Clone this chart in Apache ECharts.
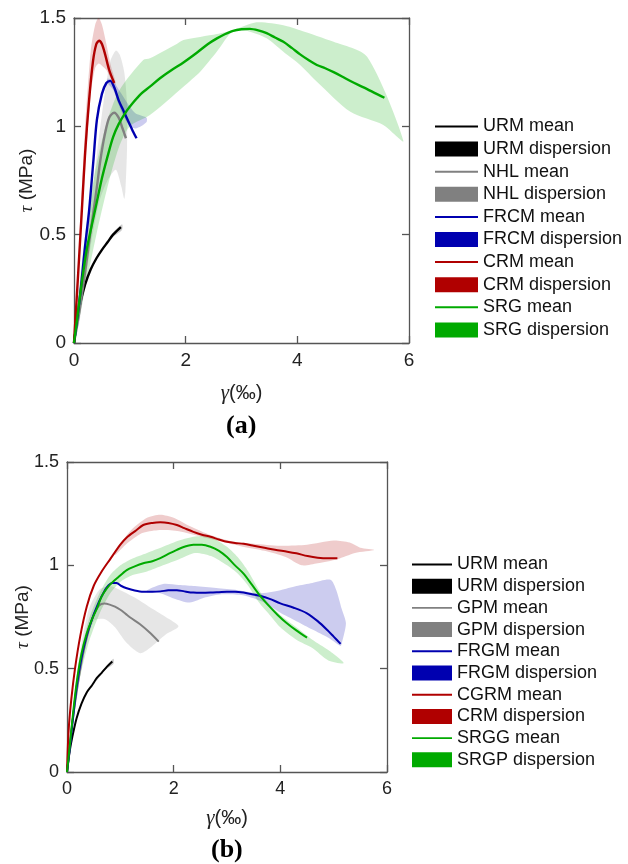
<!DOCTYPE html>
<html>
<head>
<meta charset="utf-8">
<script src="https://cdn.jsdelivr.net/npm/echarts@6/dist/echarts.min.js"></script>
<style>
  html, body { margin: 0; padding: 0; background: #fff; }
  #chart { width: 628px; height: 864px; }
</style>
</head>
<body>
<div id="chart"></div>
<script>
// --- Ejes ---
const X_TICKS = [0, 2, 4, 6];
const Y_TICKS = [0, 0.5, 1, 1.5];

// --- Panel (a): curvas medias [gamma, tau] ---
const urmMediaA = [[0, 0], [0.05, 0.1], [0.1, 0.17], [0.2, 0.27], [0.3, 0.34], [0.4, 0.39], [0.5, 0.43], [0.6, 0.465], [0.7, 0.5], [0.84, 0.535]];
const nhlMediaA = [[0, 0], [0.1, 0.15], [0.2, 0.33], [0.3, 0.52], [0.35, 0.61], [0.41, 0.72], [0.47, 0.84], [0.55, 0.96], [0.63, 1.04], [0.72, 1.063], [0.8, 1.04], [0.87, 0.99], [0.93, 0.945]];
const frcmMediaA = [[0, 0], [0.1, 0.2], [0.2, 0.45], [0.27, 0.61], [0.35, 0.85], [0.41, 1.03], [0.5, 1.15], [0.58, 1.2], [0.65, 1.21], [0.72, 1.18], [0.8, 1.12], [0.88, 1.075], [0.96, 1.03], [1.05, 0.98], [1.12, 0.945]];
const crmMediaA = [[0, 0], [0.07, 0.3], [0.14, 0.61], [0.2, 0.88], [0.27, 1.12], [0.34, 1.3], [0.4, 1.38], [0.45, 1.395], [0.5, 1.38], [0.56, 1.33], [0.63, 1.26], [0.72, 1.2]];
const srgMediaA = [[0, 0], [0.05, 0.1], [0.14, 0.28], [0.22, 0.42], [0.29, 0.51], [0.4, 0.64], [0.5, 0.76], [0.6, 0.86], [0.7, 0.95], [0.8, 1.01], [0.94, 1.07], [1.06, 1.11], [1.2, 1.15], [1.36, 1.183], [1.54, 1.222], [1.75, 1.26], [1.96, 1.295], [2.2, 1.34], [2.4, 1.38], [2.56, 1.406], [2.7, 1.425], [2.85, 1.441], [3.0, 1.448], [3.15, 1.45], [3.3, 1.443], [3.45, 1.43], [3.6, 1.41], [3.75, 1.39], [3.9, 1.362], [4.05, 1.332], [4.2, 1.306], [4.35, 1.283], [4.5, 1.268], [4.65, 1.25], [4.8, 1.23], [4.95, 1.209], [5.1, 1.19], [5.25, 1.172], [5.4, 1.152], [5.56, 1.132]];

// --- Panel (a): bandas de dispersión (borde superior y luego inferior) ---
const urmBandaA = [[0.55, 0.45], [0.7, 0.51], [0.86, 0.548], [0.86, 0.522], [0.7, 0.49], [0.55, 0.44]];
const nhlBandaA = [[0, 0], [0.2, 0.4], [0.4, 0.85], [0.55, 1.15], [0.65, 1.3], [0.75, 1.35], [0.82, 1.33], [0.9, 1.25], [0.95, 1.1], [0.95, 0.9], [0.92, 0.7], [0.9, 0.665], [0.85, 0.72], [0.75, 0.8], [0.6, 0.75], [0.45, 0.65], [0.3, 0.45], [0.1, 0.1]];
const frcmBandaA = [[0.6, 1.22], [0.7, 1.21], [0.8, 1.17], [0.9, 1.13], [1.0, 1.09], [1.1, 1.06], [1.2, 1.05], [1.3, 1.04], [1.3, 1.02], [1.2, 1.0], [1.1, 0.99], [1.0, 1.0], [0.9, 1.04], [0.8, 1.1], [0.7, 1.17], [0.6, 1.2]];
const crmBandaA = [[0, 0], [0.1, 0.5], [0.2, 1.0], [0.3, 1.35], [0.38, 1.47], [0.44, 1.5], [0.5, 1.47], [0.58, 1.38], [0.66, 1.28], [0.74, 1.21], [0.74, 1.19], [0.66, 1.22], [0.58, 1.26], [0.5, 1.28], [0.44, 1.29], [0.38, 1.27], [0.3, 1.15], [0.2, 0.8], [0.1, 0.4]];
const srgBandaA = [[0, 0], [0.2, 0.5], [0.4, 0.82], [0.6, 1.03], [0.82, 1.17], [1.24, 1.306], [1.36, 1.314], [1.84, 1.38], [1.96, 1.398], [2.56, 1.426], [2.85, 1.444], [3.27, 1.48], [3.75, 1.467], [4.05, 1.444], [4.65, 1.39], [5.25, 1.321], [5.9, 0.932], [5.54, 1.006], [4.95, 1.067], [4.35, 1.206], [4.05, 1.283], [3.75, 1.344], [3.45, 1.406], [3.15, 1.437], [2.85, 1.44], [2.56, 1.345], [2.26, 1.252], [1.96, 1.183], [1.36, 1.052], [1.0, 1.0], [0.8, 0.9], [0.6, 0.72], [0.4, 0.5], [0.2, 0.25]];

// --- Panel (b): curvas medias ---
const urmMediaB = [[0, 0], [0.05, 0.1], [0.1, 0.17], [0.18, 0.26], [0.27, 0.33], [0.37, 0.385], [0.47, 0.42], [0.56, 0.455], [0.65, 0.48], [0.75, 0.51], [0.85, 0.535]];
const gpmMediaB = [[0, 0], [0.05, 0.12], [0.1, 0.24], [0.2, 0.42], [0.3, 0.57], [0.4, 0.68], [0.5, 0.76], [0.6, 0.805], [0.7, 0.815], [0.8, 0.81], [0.9, 0.8], [1.0, 0.785], [1.1, 0.765], [1.2, 0.745], [1.37, 0.715], [1.55, 0.675], [1.72, 0.631]];
const frgmMediaB = [[0, 0], [0.05, 0.11], [0.1, 0.23], [0.18, 0.41], [0.27, 0.55], [0.37, 0.66], [0.47, 0.74], [0.56, 0.8], [0.65, 0.85], [0.75, 0.895], [0.85, 0.915], [0.93, 0.915], [1.02, 0.9], [1.12, 0.889], [1.27, 0.878], [1.43, 0.872], [1.6, 0.872], [1.75, 0.874], [1.9, 0.879], [2.06, 0.88], [2.2, 0.874], [2.37, 0.868], [2.53, 0.867], [2.69, 0.868], [2.85, 0.87], [3.0, 0.872], [3.15, 0.872], [3.31, 0.868], [3.47, 0.86], [3.63, 0.852], [3.8, 0.838], [4.0, 0.816], [4.25, 0.795], [4.5, 0.768], [4.7, 0.73], [4.88, 0.687], [5.0, 0.655], [5.13, 0.62]];
const cgrmMediaB = [[0, 0], [0.03, 0.2], [0.08, 0.35], [0.15, 0.5], [0.25, 0.66], [0.37, 0.8], [0.5, 0.9], [0.65, 0.97], [0.81, 1.03], [1.0, 1.1], [1.12, 1.135], [1.3, 1.17], [1.43, 1.195], [1.6, 1.205], [1.75, 1.208], [1.9, 1.205], [2.06, 1.195], [2.2, 1.18], [2.37, 1.162], [2.53, 1.148], [2.69, 1.138], [2.85, 1.125], [3.0, 1.114], [3.15, 1.108], [3.31, 1.104], [3.5, 1.095], [3.7, 1.085], [3.9, 1.075], [4.13, 1.066], [4.3, 1.058], [4.51, 1.045], [4.7, 1.037], [4.9, 1.034], [5.07, 1.034]];
const srggMediaB = [[0, 0], [0.05, 0.12], [0.1, 0.25], [0.18, 0.43], [0.27, 0.57], [0.37, 0.67], [0.47, 0.74], [0.56, 0.79], [0.65, 0.85], [0.75, 0.89], [0.84, 0.915], [0.95, 0.94], [1.12, 0.977], [1.27, 0.995], [1.43, 1.01], [1.6, 1.02], [1.75, 1.035], [1.9, 1.055], [2.06, 1.075], [2.2, 1.09], [2.37, 1.1], [2.53, 1.1], [2.69, 1.09], [2.85, 1.07], [3.0, 1.04], [3.15, 1.0], [3.31, 0.96], [3.47, 0.905], [3.63, 0.85], [3.8, 0.8], [3.95, 0.76], [4.1, 0.725], [4.3, 0.685], [4.5, 0.65]];

// --- Panel (b): bandas de dispersión ---
const urmBandaB = [[0.55, 0.45], [0.7, 0.5], [0.87, 0.548], [0.87, 0.522], [0.7, 0.49], [0.55, 0.44]];
const gpmBandaB = [[0, 0], [0.2, 0.5], [0.4, 0.78], [0.6, 0.88], [0.8, 0.9], [1.0, 0.88], [1.3, 0.84], [1.6, 0.79], [1.85, 0.75], [2.09, 0.705], [1.85, 0.665], [1.6, 0.61], [1.37, 0.575], [1.1, 0.63], [0.9, 0.7], [0.7, 0.74], [0.5, 0.73], [0.3, 0.55], [0.1, 0.2]];
const frgmBandaB = [[1.5, 0.88], [1.8, 0.91], [2.1, 0.905], [2.4, 0.9], [2.8, 0.89], [3.2, 0.88], [3.6, 0.865], [4.0, 0.88], [4.3, 0.9], [4.6, 0.915], [4.94, 0.93], [5.05, 0.88], [5.15, 0.79], [5.23, 0.72], [5.15, 0.62], [5.13, 0.61], [4.9, 0.65], [4.6, 0.69], [4.3, 0.73], [4.0, 0.77], [3.7, 0.82], [3.3, 0.855], [2.9, 0.86], [2.6, 0.845], [2.3, 0.82], [2.0, 0.84], [1.75, 0.865], [1.5, 0.87]];
const crmBandaB = [[0.9, 1.07], [1.2, 1.17], [1.5, 1.23], [1.75, 1.245], [2.0, 1.23], [2.3, 1.19], [2.7, 1.145], [3.1, 1.115], [3.5, 1.105], [4.0, 1.095], [4.5, 1.1], [5.0, 1.12], [5.3, 1.11], [5.5, 1.085], [5.76, 1.074], [5.4, 1.06], [5.07, 1.03], [4.7, 1.01], [4.4, 1.0], [4.1, 1.04], [3.7, 1.07], [3.3, 1.09], [2.9, 1.115], [2.5, 1.14], [2.1, 1.165], [1.7, 1.17], [1.4, 1.155], [1.1, 1.1], [0.9, 1.05]];
const srgpBandaB = [[0, 0], [0.2, 0.5], [0.4, 0.73], [0.6, 0.86], [0.8, 0.95], [1.0, 1.0], [1.2, 1.03], [1.5, 1.06], [1.8, 1.09], [2.1, 1.12], [2.4, 1.14], [2.7, 1.135], [3.0, 1.09], [3.2, 1.04], [3.4, 0.97], [3.6, 0.88], [3.8, 0.81], [4.0, 0.76], [4.3, 0.7], [4.6, 0.64], [4.9, 0.59], [5.19, 0.527], [4.9, 0.54], [4.6, 0.6], [4.3, 0.64], [4.0, 0.7], [3.8, 0.76], [3.6, 0.82], [3.4, 0.9], [3.2, 0.96], [3.0, 1.0], [2.7, 1.045], [2.4, 1.06], [2.1, 1.03], [1.8, 1.0], [1.5, 0.97], [1.2, 0.95], [1.0, 0.92], [0.8, 0.86], [0.6, 0.76], [0.4, 0.62], [0.2, 0.4]];

// --- Leyendas ---
const leyendaA = ["URM mean", "URM dispersion", "NHL mean", "NHL dispersion", "FRCM mean", "FRCM dispersion", "CRM mean", "CRM dispersion", "SRG mean", "SRG dispersion"];
const leyendaB = ["URM mean", "URM dispersion", "GPM mean", "GPM dispersion", "FRGM mean", "FRGM dispersion", "CGRM mean", "CRM dispersion", "SRGG mean", "SRGP dispersion"];
const colores = ["#000000", "#808080", "#0000B0", "#B00000", "#00AA00"];

const SANS = "'Liberation Sans', Arial, Helvetica, sans-serif";
const SERIF = "'Liberation Serif', 'Times New Roman', serif";

function rgba(hex, a) {
  const n = parseInt(hex.slice(1), 16);
  return `rgba(${(n >> 16) & 255},${(n >> 8) & 255},${n & 255},${a})`;
}

function lineaMedia(nombre, datos, color, panel) {
  return {
    name: nombre,
    type: "line",
    xAxisIndex: panel * 2,
    yAxisIndex: panel * 2,
    data: datos,
    smooth: 0.3,
    symbol: "none",
    showSymbol: false,
    silent: true,
    z: 3,
    lineStyle: { color: color, width: panel === 0 ? 2.4 : 2 },
    itemStyle: { color: color },
  };
}

function bandaDispersion(nombre, datos, color, panel) {
  return {
    name: nombre,
    type: "custom",
    xAxisIndex: panel * 2,
    yAxisIndex: panel * 2,
    data: datos,
    silent: true,
    z: 2,
    itemStyle: { color: color },
    renderItem: (params, api) => {
      if (params.dataIndex !== 0) return null;
      const pts = datos.map((p) => api.coord(p));
      return {
        type: "polygon",
        shape: { points: pts, smooth: 0.25 },
        style: { fill: rgba(color, 0.2), stroke: null },
      };
    },
  };
}

function ejeX(grid, abajo, gap) {
  return {
    type: "value",
    gridIndex: grid,
    position: abajo ? "bottom" : "top",
    min: 0,
    max: 6,
    interval: 2,
    axisLine: { show: true, onZero: false, lineStyle: { color: "#555", width: 1.3 } },
    axisTick: { show: true, inside: true, length: 7, lineStyle: { color: "#555", width: 1.3 } },
    axisLabel: { show: abajo, fontSize: grid === 0 ? 19 : 18, color: "#222", fontFamily: SANS, margin: 8 },
    splitLine: { show: false },
    name: abajo ? "{g|γ}(‰)" : "",
    nameLocation: "middle",
    nameGap: gap,
    nameMoveOverlap: false,
    nameTextStyle: {
      fontSize: 20,
      color: "#222",
      fontFamily: SANS,
      rich: { g: { fontSize: 21, fontStyle: "italic", fontFamily: SERIF, color: "#222" } },
    },
  };
}

function ejeY(grid, izquierda, gap) {
  return {
    type: "value",
    gridIndex: grid,
    position: izquierda ? "left" : "right",
    min: 0,
    max: 1.5,
    interval: 0.5,
    axisLine: { show: true, onZero: false, lineStyle: { color: "#555", width: 1.3 } },
    axisTick: { show: true, inside: true, length: 7, lineStyle: { color: "#555", width: 1.3 } },
    axisLabel: { show: izquierda, fontSize: grid === 0 ? 19 : 18, color: "#222", fontFamily: SANS, margin: 8 },
    splitLine: { show: false },
    name: izquierda ? "{t|τ} (MPa)" : "",
    nameLocation: "middle",
    nameGap: gap,
    nameMoveOverlap: false,
    nameTextStyle: {
      fontSize: 19,
      color: "#222",
      fontFamily: SANS,
      rich: { t: { fontSize: 19, fontStyle: "italic", fontFamily: SERIF, color: "#222" } },
    },
  };
}

function itemsLeyenda(nombres) {
  return nombres.map((n, i) => {
    const color = colores[Math.floor(i / 2)];
    const esMedia = i % 2 === 0;
    return {
      name: n,
      icon: esMedia ? "path://M0,0H43V2H0Z" : "rect",
      itemStyle: { color: color, borderWidth: 0, opacity: 1 },
    };
  });
}

function construirOpciones() {
  const mediasA = [urmMediaA, nhlMediaA, frcmMediaA, crmMediaA, srgMediaA];
  const bandasA = [urmBandaA, nhlBandaA, frcmBandaA, crmBandaA, srgBandaA];
  const mediasB = [urmMediaB, gpmMediaB, frgmMediaB, cgrmMediaB, srggMediaB];
  const bandasB = [urmBandaB, gpmBandaB, frgmBandaB, crmBandaB, srgpBandaB];

  const series = [];
  bandasA.forEach((b, i) => series.push(bandaDispersion(leyendaA[i * 2 + 1], b, colores[i], 0)));
  mediasA.forEach((m, i) => series.push(lineaMedia(leyendaA[i * 2], m, colores[i], 0)));
  bandasB.forEach((b, i) => series.push(bandaDispersion(leyendaB[i * 2 + 1], b, colores[i], 1)));
  mediasB.forEach((m, i) => series.push(lineaMedia(leyendaB[i * 2], m, colores[i], 1)));

  const estiloLeyenda = { fontSize: 18, color: "#111", fontFamily: SANS, lineHeight: 17 };

  return {
    animation: false,
    backgroundColor: "#fff",
    grid: [
      { left: 74, top: 18, width: 335, height: 325 },
      { left: 67, top: 462, width: 320, height: 310 },
    ],
    xAxis: [ejeX(0, true, 40), ejeX(0, false, 0), ejeX(1, true, 36), ejeX(1, false, 0)],
    yAxis: [ejeY(0, true, 38), ejeY(0, false, 0), ejeY(1, true, 35), ejeY(1, false, 0)],
    legend: [
      {
        orient: "vertical",
        left: 430,
        top: 112.5,
        itemWidth: 43,
        itemHeight: 15,
        itemGap: 4.6,
        selectedMode: false,
        textStyle: estiloLeyenda,
        data: itemsLeyenda(leyendaA),
      },
      {
        orient: "vertical",
        left: 407,
        top: 550.5,
        itemWidth: 40,
        itemHeight: 15,
        itemGap: 3.7,
        selectedMode: false,
        textStyle: estiloLeyenda,
        data: itemsLeyenda(leyendaB),
      },
    ],
    graphic: [
      { type: "text", left: 226, top: 413, style: { text: "(a)", font: "bold 26px " + SERIF, fill: "#000" } },
      { type: "text", left: 211, top: 837, style: { text: "(b)", font: "bold 26px " + SERIF, fill: "#000" } },
    ],
    series: series,
  };
}

document.addEventListener("DOMContentLoaded", () => {
  const chart = echarts.init(document.getElementById("chart"), null, { renderer: "canvas" });
  chart.setOption(construirOpciones());
});
</script>
</body>
</html>
